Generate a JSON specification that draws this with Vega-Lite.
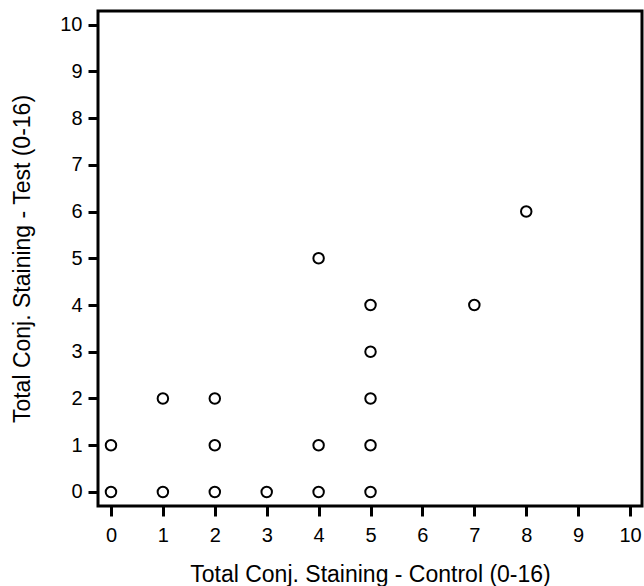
{
  "$schema": "https://vega.github.io/schema/vega-lite/v6.json",
  "width": 544,
  "height": 495,
  "autosize": {"type": "none"},
  "padding": {"left": 98, "top": 11, "right": 2, "bottom": 80},
  "background": "white",
  "view": {"stroke": "black", "strokeWidth": 3},
  "data": {
    "values": [
      {"control": 0, "test": 0},
      {"control": 0, "test": 1},
      {"control": 1, "test": 0},
      {"control": 1, "test": 2},
      {"control": 2, "test": 0},
      {"control": 2, "test": 1},
      {"control": 2, "test": 2},
      {"control": 3, "test": 0},
      {"control": 4, "test": 0},
      {"control": 4, "test": 1},
      {"control": 4, "test": 5},
      {"control": 5, "test": 0},
      {"control": 5, "test": 1},
      {"control": 5, "test": 2},
      {"control": 5, "test": 3},
      {"control": 5, "test": 4},
      {"control": 7, "test": 4},
      {"control": 8, "test": 6}
    ]
  },
  "mark": {"type": "point", "shape": "circle", "filled": false, "color": "black", "strokeWidth": 2, "size": 110, "opacity": 1},
  "encoding": {
    "x": {
      "field": "control",
      "type": "quantitative",
      "scale": {"domain": [-0.25, 10.23], "nice": false, "zero": false},
      "axis": {
        "values": [0,1,2,3,4,5,6,7,8,9,10],
        "title": "Total Conj. Staining - Control (0-16)",
        "domain": false, "grid": false,
        "tickColor": "black", "tickWidth": 3, "tickSize": 10,
        "labelColor": "black", "labelFontSize": 20, "labelFont": "Arial", "labelPadding": 9.5,
        "titleFont": "Arial", "titleFontSize": 23, "titleFontWeight": "normal", "titleColor": "black",
        "titleY": 75, "titleBaseline": "alphabetic"
      }
    },
    "y": {
      "field": "test",
      "type": "quantitative",
      "scale": {"domain": [-0.3, 10.29], "nice": false, "zero": false},
      "axis": {
        "values": [0,1,2,3,4,5,6,7,8,9,10],
        "title": "Total Conj. Staining - Test (0-16)",
        "domain": false, "grid": false,
        "tickColor": "black", "tickWidth": 3, "tickSize": 10,
        "labelColor": "black", "labelFontSize": 20, "labelFont": "Arial", "labelPadding": 6,
        "titleFont": "Arial", "titleFontSize": 23, "titleFontWeight": "normal", "titleColor": "black",
        "titleX": -69, "titleBaseline": "alphabetic"
      }
    }
  }
}
